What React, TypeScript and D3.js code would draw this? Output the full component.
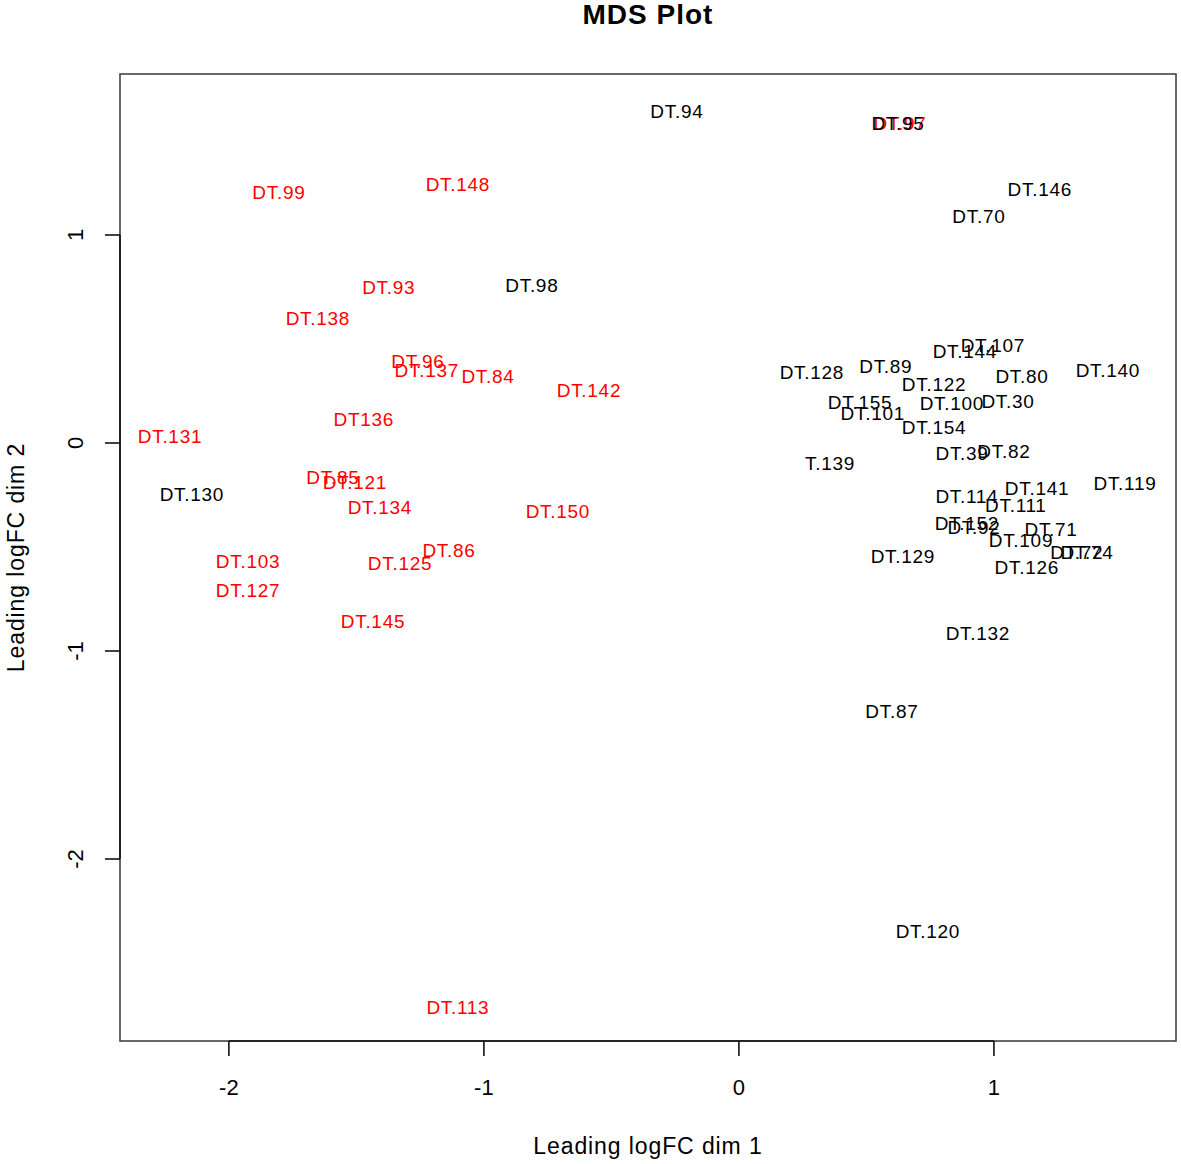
import React from "react";
import * as d3 from "d3";

const blackLabels = ["DT.94","DT.95","DT.146","DT.70","DT.98","DT.107","DT.144","DT.128","DT.89","DT.122","DT.80","DT.140","DT.155","DT.101","DT.100","DT.30","DT.154","DT.39","DT.82","T.139","DT.130","DT.114","DT.141","DT.119","DT.111","DT.152","DT.92","DT.71","DT.109","DT.129","DT.72","DT.74","DT.126","DT.132","DT.87","DT.120"];
const blackX = [-0.243,0.624,1.180,0.941,-0.812,0.996,0.886,0.286,0.576,0.765,1.110,1.447,0.475,0.525,0.835,1.055,0.765,0.875,1.039,0.357,-2.145,0.894,1.169,1.514,1.086,0.894,0.922,1.224,1.106,0.643,1.325,1.365,1.129,0.937,0.600,0.741];
const blackY = [1.596,1.538,1.221,1.091,0.760,0.471,0.442,0.341,0.370,0.284,0.322,0.351,0.197,0.144,0.192,0.202,0.077,-0.048,-0.038,-0.096,-0.245,-0.255,-0.216,-0.192,-0.298,-0.385,-0.404,-0.413,-0.466,-0.543,-0.524,-0.524,-0.596,-0.913,-1.288,-2.346];

const redLabels = ["DT.97","DT.99","DT.148","DT.93","DT.138","DT.96","DT.137","DT.84","DT.142","DT136","DT.131","DT.85","DT.121","DT.134","DT.150","DT.86","DT.125","DT.103","DT.127","DT.145","DT.113"];
const redX = [0.632,-1.804,-1.102,-1.373,-1.651,-1.259,-1.224,-0.984,-0.588,-1.471,-2.231,-1.592,-1.506,-1.408,-0.710,-1.137,-1.329,-1.925,-1.925,-1.435,-1.102];
const redY = [1.535,1.207,1.245,0.750,0.601,0.394,0.351,0.322,0.255,0.115,0.034,-0.163,-0.188,-0.308,-0.327,-0.514,-0.577,-0.567,-0.707,-0.856,-2.712];

const xTicks = [-2, -1, 0, 1];
const yTicks = [-2, -1, 0, 1];

const W = 1181, H = 1164;
const L = 120, R = 1176, T = 74, B = 1041;

export default function App() {
  const x = d3.scaleLinear().domain([-2.427, 1.714]).range([L, R]);
  const y = d3.scaleLinear().domain([-2.875, 1.774]).range([B, T]);
  const font = "Liberation Sans, Arial, Helvetica, sans-serif";
  const fs = 19;
  const ls = 0.7;
  return (
    <svg width={W} height={H} style={{ position: "absolute", left: 0, top: 0, background: "#fff" }} fontFamily={font}>
      <text x={(L + R) / 2} y={24} textAnchor="middle" fontWeight="bold" fontSize={28} letterSpacing={1}>MDS Plot</text>
      {redLabels.map((l, i) => (
        <text key={"r" + i} x={x(redX[i])} y={y(redY[i])} dy="0.35em" textAnchor="middle" fontSize={fs} letterSpacing={ls} fill="#ff0000">{l}</text>
      ))}
      {blackLabels.map((l, i) => (
        <text key={"b" + i} x={x(blackX[i])} y={y(blackY[i])} dy="0.35em" textAnchor="middle" fontSize={fs} letterSpacing={ls} fill="#000">{l}</text>
      ))}
      <rect x={L} y={T} width={R - L} height={B - T} fill="none" stroke="#444" strokeWidth={1.6} />
      <line x1={x(xTicks[0])} x2={x(xTicks[xTicks.length - 1])} y1={B} y2={B} stroke="#111" strokeWidth={1.6} />
      {xTicks.map((t) => (
        <g key={"xt" + t}>
          <line x1={x(t)} x2={x(t)} y1={B} y2={B + 15} stroke="#111" strokeWidth={1.6} />
          <text x={x(t)} y={1095} textAnchor="middle" fontSize={22}>{t}</text>
        </g>
      ))}
      <line x1={L} x2={L} y1={y(yTicks[0])} y2={y(yTicks[yTicks.length - 1])} stroke="#111" strokeWidth={1.6} />
      {yTicks.map((t) => (
        <g key={"yt" + t}>
          <line x1={L} x2={L - 15} y1={y(t)} y2={y(t)} stroke="#111" strokeWidth={1.6} />
          <text transform={`translate(83,${y(t)}) rotate(-90)`} textAnchor="middle" fontSize={22}>{t}</text>
        </g>
      ))}
      <text x={(L + R) / 2} y={1154} textAnchor="middle" fontSize={23} letterSpacing={0.9}>Leading logFC dim 1</text>
      <text transform={`translate(24,${(T + B) / 2}) rotate(-90)`} textAnchor="middle" fontSize={23} letterSpacing={0.9}>Leading logFC dim 2</text>
    </svg>
  );
}
